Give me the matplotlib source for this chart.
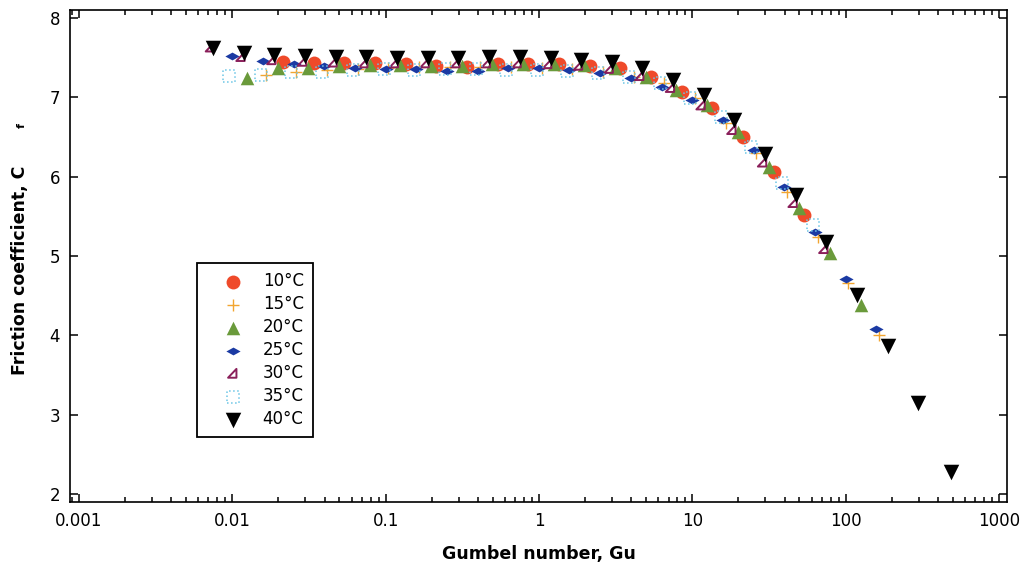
"""
Friction coefficient vs Gumbel number
=====================================
Scatter of Cf against Gu (log x) for seven temperatures.
"""

import matplotlib

matplotlib.use("Agg")
import matplotlib.pyplot as plt
from matplotlib.path import Path
from matplotlib.ticker import FixedLocator, FixedFormatter, LogLocator

# ──────────────────────────────────────────────
# 1.  DATA
# ──────────────────────────────────────────────
gu_10 = [0.0214, 0.0339, 0.0537, 0.0851, 0.135, 0.214, 0.339, 0.537, 0.851,
         1.35, 2.14, 3.39, 5.37, 8.51, 13.5, 21.4, 33.9, 53.7]
cf_10 = [7.45, 7.43, 7.43, 7.43, 7.42, 7.39, 7.38, 7.42, 7.42,
         7.42, 7.40, 7.37, 7.26, 7.07, 6.87, 6.50, 6.06, 5.52]

gu_15 = [0.0165, 0.0262, 0.0415, 0.0658, 0.104, 0.165, 0.262, 0.415, 0.658,
         1.04, 1.65, 2.62, 4.15, 6.58, 10.4, 16.5, 26.2, 41.5, 65.8, 104, 165]
cf_15 = [7.28, 7.32, 7.34, 7.36, 7.37, 7.38, 7.38, 7.38, 7.38,
         7.37, 7.36, 7.32, 7.26, 7.18, 6.99, 6.68, 6.30, 5.81, 5.24, 4.66, 4.00]

gu_20 = [0.0125, 0.0198, 0.0314, 0.0497, 0.0788, 0.125, 0.198, 0.314, 0.497,
         0.788, 1.25, 1.98, 3.14, 4.97, 7.88, 12.5, 19.8, 31.4, 49.7, 78.8, 125]
cf_20 = [7.24, 7.37, 7.37, 7.39, 7.41, 7.41, 7.39, 7.39, 7.42,
         7.42, 7.42, 7.41, 7.37, 7.26, 7.09, 6.90, 6.56, 6.12, 5.60, 5.04, 4.38]

gu_25 = [0.0100, 0.0158, 0.0251, 0.0398, 0.0631, 0.100, 0.158, 0.251, 0.398,
         0.631, 1.00, 1.58, 2.51, 3.98, 6.31, 10.0, 15.8, 25.1, 39.8, 63.1,
         100, 158]
cf_25 = [7.52, 7.46, 7.42, 7.39, 7.37, 7.36, 7.36, 7.33, 7.33,
         7.37, 7.37, 7.34, 7.31, 7.24, 7.13, 6.97, 6.71, 6.34, 5.87, 5.30,
         4.71, 4.08]

gu_30 = [0.0072, 0.0114, 0.0181, 0.0287, 0.0454, 0.072, 0.114, 0.181, 0.287,
         0.454, 0.72, 1.14, 1.81, 2.87, 4.54, 7.2, 11.4, 18.1, 28.7, 45.4, 72]
cf_30 = [7.63, 7.51, 7.47, 7.45, 7.44, 7.43, 7.43, 7.43, 7.43,
         7.43, 7.43, 7.42, 7.40, 7.36, 7.27, 7.12, 6.90, 6.59, 6.18, 5.67, 5.09]

gu_35 = [0.0095, 0.0153, 0.0243, 0.0386, 0.0612, 0.097, 0.153, 0.243, 0.386,
         0.612, 0.97, 1.53, 2.43, 3.86, 6.12, 9.7, 15.3, 24.3, 38.6, 61.2]
cf_35 = [7.27, 7.28, 7.32, 7.32, 7.34, 7.36, 7.34, 7.36, 7.36,
         7.34, 7.34, 7.33, 7.31, 7.25, 7.18, 6.99, 6.75, 6.37, 5.92, 5.39]

gu_40 = [0.0075, 0.0119, 0.0188, 0.0298, 0.0473, 0.075, 0.119, 0.188, 0.298,
         0.473, 0.75, 1.19, 1.88, 2.98, 4.73, 7.5, 11.9, 18.8, 29.8, 47.3,
         75, 119, 188, 298, 490]
cf_40 = [7.62, 7.56, 7.53, 7.52, 7.51, 7.51, 7.50, 7.50, 7.50,
         7.51, 7.51, 7.50, 7.47, 7.44, 7.37, 7.22, 7.03, 6.71, 6.29, 5.77,
         5.18, 4.51, 3.86, 3.15, 2.28]

labels = ["10°C", "15°C", "20°C", "25°C", "30°C", "35°C", "40°C"]
x_ticks = [0.001, 0.01, 0.1, 1, 10, 100, 1000]
x_tick_labels = ["0.001", "0.01", "0.1", "1", "10", "100", "1000"]
y_ticks = [2, 3, 4, 5, 6, 7, 8]

# ──────────────────────────────────────────────
# 2.  STYLE
# ──────────────────────────────────────────────
FONT = "DejaVu Sans"
TICK_FS = 12
LABEL_FS = 12.5

# flattened diamond and the open right-angled triangle of the original
flat_diamond = Path([(-1, 0), (0, 0.55), (1, 0), (0, -0.55), (-1, 0)],
                    [Path.MOVETO, Path.LINETO, Path.LINETO, Path.LINETO,
                     Path.CLOSEPOLY])
right_tri = Path([(-1, -0.9), (0.8, -0.9), (0.8, 1), (-1, -0.9)],
                 [Path.MOVETO, Path.LINETO, Path.LINETO, Path.CLOSEPOLY])

series = [
    (gu_10, cf_10, dict(marker="o", s=100, c="#ef4a2a", linewidths=0)),
    (gu_15, cf_15, dict(marker="+", s=85, c="#f2a530", linewidths=1.0)),
    (gu_20, cf_20, dict(marker="^", s=95, c="#6a9a3b", linewidths=0)),
    (gu_25, cf_25, dict(marker=flat_diamond, s=105, c="#1b3aa3", linewidths=0)),
    (gu_30, cf_30, dict(marker=right_tri, s=45, facecolors="none",
                        edgecolors="#8a1f5a", linewidths=1.4)),
    (gu_35, cf_35, dict(marker="s", s=75, facecolors="none",
                        edgecolors="#6cc6e6", linewidths=1.1, linestyles=":")),
    (gu_40, cf_40, dict(marker="v", s=125, c="black", linewidths=0)),
]


def main():
    plt.rcParams["font.family"] = [FONT]
    fig = plt.figure(figsize=(10.28, 5.71), dpi=100)
    ax = fig.add_axes([0.068, 0.1208, 0.9116, 0.8617])

    for (gu, cf, kw), lab in zip(series, labels):
        ax.scatter(gu, cf, label=lab, zorder=3, **kw)

    # --- axes ---
    ax.set_xscale("log")
    ax.set_xlim(0.000874, 1128)
    ax.set_ylim(1.9, 8.1)
    ax.xaxis.set_major_locator(FixedLocator(x_ticks))
    ax.xaxis.set_major_formatter(FixedFormatter(x_tick_labels))
    ax.xaxis.set_minor_locator(LogLocator(base=10, subs=range(2, 10), numticks=20))
    ax.yaxis.set_major_locator(FixedLocator(y_ticks))
    ax.yaxis.set_minor_locator(FixedLocator([]))

    ax.tick_params(which="both", direction="in", top=True, right=True,
                   width=1.1, labelsize=TICK_FS, pad=7)
    ax.tick_params(which="major", length=6)
    ax.tick_params(which="minor", length=3.5)
    for sp in ax.spines.values():
        sp.set_linewidth(1.2)

    # --- labels ---
    ax.set_xlabel("Gumbel number, Gu", fontsize=LABEL_FS, fontweight="bold",
                  labelpad=11)
    fig.text(0.019, 1 - 270 / 571, "Friction coefficient, C", rotation=90,
             fontsize=LABEL_FS, fontweight="bold", ha="center", va="center")
    fig.text(0.021, 1 - 125 / 571, "f", rotation=90, fontsize=8,
             fontweight="bold", ha="center", va="center")

    # --- legend ---
    leg = ax.legend(loc="lower left", bbox_to_anchor=(0.1355, 0.132),
                    borderaxespad=0, fontsize=TICK_FS, frameon=True,
                    fancybox=False, framealpha=1, edgecolor="black",
                    labelspacing=0.3, handletextpad=0.2, borderpad=0.55,
                    handlelength=3.2, scatterpoints=1)
    leg.get_frame().set_linewidth(1.3)

    fig.savefig("out.png", dpi=100)
    plt.close(fig)


if __name__ == "__main__":
    main()
